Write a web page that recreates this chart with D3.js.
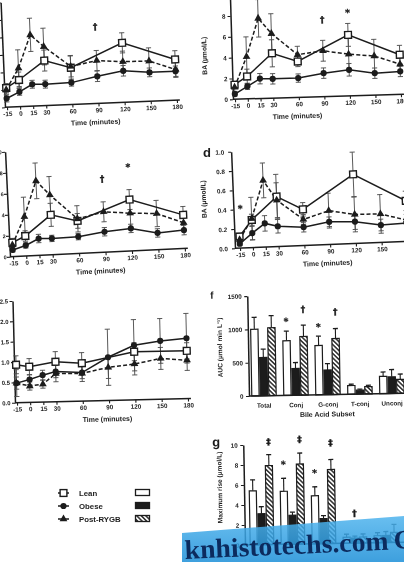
<!DOCTYPE html>
<html><head><meta charset="utf-8">
<script src="https://cdn.jsdelivr.net/npm/d3@7"></script>
<style>
body{margin:0;background:#fff}
svg{display:block;will-change:transform}
text{font-family:"Liberation Sans",Arial,sans-serif;font-weight:bold;fill:#1c1c1c}
text.mk{font-family:"DejaVu Sans",sans-serif;stroke:#1c1c1c;stroke-width:0.35}
</style>
</head><body><svg id="c" width="404" height="562"></svg>
<script>
// ---------- DATA ----------
const allTimes = [-15, 0, 15, 30, 60, 90, 120, 150, 180];
const leanTimes = [-15, 0, 30, 60, 120, 180];
const timeTicks = [-15, 0, 15, 30, 60, 90, 120, 150, 180];

// panel a
const aLean = [2.2, 3.05, 5.15, 4.2, 6.8, 4.65];
const aLeanErr = [0.5, 0.9, 1.2, 1.4, 1.15, 1.0];
const aObese = [1.0, 1.7, 2.5, 2.45, 2.5, 3.1, 3.6, 3.3, 3.3];
const aObeseErr = [0.4, 0.4, 0.45, 0.45, 0.4, 0.6, 0.6, 0.5, 0.6];
const aPost = [2.0, 4.4, 8.15, 6.75, 4.35, 4.9, 4.65, 4.6, 3.5];
const aPostErr = [0.5, 2.1, 1.9, 2.1, 1.2, 1.15, 1.2, 1.5, 0.9];
// panel b
const bLean = [1.4, 2.15, 4.3, 3.45, 5.85, 3.8];
const bLeanErr = [0.3, 0.7, 1.3, 0.5, 1.1, 0.9];
const bObese = [0.5, 1.2, 1.9, 1.85, 1.85, 2.25, 2.5, 2.1, 2.2];
const bObeseErr = [0.2, 0.3, 0.5, 0.5, 0.4, 0.5, 0.6, 0.5, 0.5];
const bPost = [1.15, 4.05, 7.7, 6.2, 4.1, 4.4, 4.0, 3.75, 2.9];
const bPostErr = [0.4, 1.9, 1.8, 1.9, 0.8, 1.0, 1.5, 1.6, 0.8];
// panel c
const cLean = [1.33, 1.9, 3.8, 3.1, 4.9, 3.2];
const cLeanErr = [0.4, 0.5, 1.1, 0.7, 0.95, 0.8];
const cObese = [0.63, 1.0, 1.6, 1.55, 1.6, 1.95, 2.15, 1.6, 1.75];
const cObeseErr = [0.2, 0.25, 0.4, 0.3, 0.3, 0.4, 0.4, 0.4, 0.45];
const cPost = [1.1, 3.75, 7.1, 5.7, 3.3, 3.85, 3.6, 3.45, 2.45];
const cPostErr = [0.4, 1.85, 1.7, 1.75, 1.25, 0.95, 1.4, 1.25, 0.7];
// panel d
const dLean = [0.12, 0.286, 0.517, 0.374, 0.715, 0.42];
const dLeanErr = [0.03, 0.06, 0.23, 0.07, 0.23, 0.1];
const dObese = [0.045, 0.15, 0.245, 0.21, 0.19, 0.235, 0.225, 0.18, 0.19];
const dObeseErr = [0.02, 0.07, 0.08, 0.07, 0.05, 0.05, 0.08, 0.06, 0.05];
const dPost = [0.086, 0.3, 0.69, 0.48, 0.27, 0.35, 0.3, 0.295, 0.22];
const dPostErr = [0.03, 0.22, 0.18, 0.18, 0.05, 0.18, 0.18, 0.2, 0.06];
// panel e
const eLean = [0.93, 0.875, 0.98, 0.93, 1.18, 1.17];
const eLeanErr = [0.22, 0.2, 0.25, 0.26, 0.22, 0.2];
const eObese = [0.48, 0.56, 0.66, 0.74, 0.7, 1.06, 1.34, 1.43, 1.48];
const eObeseErr = [0.33, 0.12, 0.12, 0.15, 0.15, 0.69, 0.63, 0.55, 0.61];
const ePost = [0.48, 0.4, 0.44, 0.69, 0.68, 0.81, 0.88, 1.0, 0.94];
const ePostErr = [0.15, 0.1, 0.1, 0.2, 0.2, 0.27, 0.27, 0.27, 0.25];
// panels f & g
const subsets = ["Total", "Conj", "G-conj", "T-conj", "Unconj"];
const groups = ["Lean", "Obese", "Post-RYGB"];
const fLean = [1000, 820, 740, 130, 260];
const fLeanErr = [180, 145, 140, 20, 65];
const fObese = [575, 400, 370, 60, 250];
const fObeseErr = [125, 90, 95, 15, 110];
const fPost = [1020, 880, 840, 110, 210];
const fPostErr = [180, 170, 150, 20, 80];
const gLean = [5.4, 5.3, 4.8, 0.6, 0.7];
const gLeanErr = [1.1, 1.3, 0.9, 0.3, 0.3];
const gObese = [3.1, 2.9, 2.5, 0.5, 0.7];
const gObeseErr = [0.7, 0.3, 0.3, 0.2, 0.4];
const gPost = [7.9, 8.0, 7.4, 0.6, 1.0];
const gPostErr = [1.1, 1.1, 1.0, 0.3, 0.8];
// significance marks
const aMarks = [{t: 90, v: 8.8, s: "†"}];
const bMarks = [{t: 90, v: 7.4, s: "†"}, {t: 120, v: 8.0, s: "*"}];
const cMarks = [{t: 90, v: 7.0, s: "†"}, {t: 120, v: 8.0, s: "*"}];
const dMarks = [{t: -13, v: 0.41, s: "*"}];
const fMarks = [{c: "Conj", g: "Lean", v: 1110, s: "*"}, {c: "Conj", g: "Post-RYGB", v: 1290, s: "†"},
                {c: "G-conj", g: "Lean", v: 1020, s: "*"}, {c: "G-conj", g: "Post-RYGB", v: 1245, s: "†"}];
const gMarks = [{c: "Total", g: "Post-RYGB", v: 10.3, s: "‡"}, {c: "Conj", g: "Post-RYGB", v: 10.5, s: "‡"},
                {c: "G-conj", g: "Post-RYGB", v: 10.1, s: "‡"}, {c: "Conj", g: "Lean", v: 8.0, s: "*"},
                {c: "G-conj", g: "Lean", v: 7.1, s: "*"}, {c: "T-conj", g: "Obese", v: 3.0, s: "†"}];

// ---------- DRAWING ----------
const ink = "#1c1c1c";
const svg = d3.select("#c");
const defs = svg.append("defs");
const pat = defs.append("pattern").attr("id", "hatch").attr("patternUnits", "userSpaceOnUse")
  .attr("width", 3.2).attr("height", 3.2).attr("patternTransform", "rotate(-45)");
pat.append("rect").attr("width", 3.2).attr("height", 3.2).attr("fill", "#fff");
pat.append("line").attr("x1", 0.8).attr("x2", 0.8).attr("y1", 0).attr("y2", 3.2).attr("stroke", ink).attr("stroke-width", 1.4);

function styleAxis(sel, fs) {
  sel.attr("font-size", fs || 6.3).attr("font-family", null);
  sel.selectAll("line").attr("stroke", ink).attr("stroke-width", 1.1);
  sel.selectAll("path").attr("stroke", ink).attr("stroke-width", 1.5);
  sel.selectAll("text").attr("fill", ink);
}

function marker(g, kind, cx, cy) {
  if (kind === "lean") {
    g.append("rect").attr("x", cx - 3.4).attr("y", cy - 3.4).attr("width", 6.8).attr("height", 6.8)
      .attr("fill", "#fff").attr("stroke", ink).attr("stroke-width", 1.4);
  } else if (kind === "obese") {
    g.append("circle").attr("cx", cx).attr("cy", cy).attr("r", 3.1).attr("fill", ink);
  } else {
    g.append("path").attr("d", d3.symbol(d3.symbolTriangle).size(26)()).attr("transform", `translate(${cx},${cy})`).attr("fill", ink);
  }
}

function linePanel(p) {
  const g = svg.append("g").attr("transform", `rotate(${p.angle},${p.ox},${p.oy})`);
  const x = d3.scaleLinear().domain([-15, 180]).range([p.xa, p.xb]);
  const y = d3.scaleLinear().domain([0, p.yMax]).range([p.oy, p.oy - p.yMax * p.ppu]);
  const xa = g.append("g").attr("transform", `translate(0,${p.oy})`)
    .call(d3.axisBottom(x).tickValues(timeTicks).tickSize(3).tickPadding(1.5)
      .tickFormat(d => (p.xLabMax !== undefined && d > p.xLabMax) ? "" : String(d)));
  xa.select(".domain").remove();
  styleAxis(xa);
  g.append("line").attr("x1", p.ox).attr("x2", p.xb + 3).attr("y1", p.oy).attr("y2", p.oy).attr("stroke", ink).attr("stroke-width", 1.5);
  const ya = g.append("g").attr("transform", `translate(${p.ox},0)`)
    .call(d3.axisLeft(y).tickValues(d3.range(0, p.yMax + p.step / 2, p.step)).tickSize(3).tickPadding(p.pad === undefined ? 2 : p.pad)
      .tickFormat(d => (p.labMax !== undefined && d > p.labMax) ? "" : p.fmt(d)).tickSizeOuter(0));
  styleAxis(ya, p.yfs);
  g.append("text").attr("x", p.tx).attr("y", p.oy + 21).attr("text-anchor", "middle").attr("font-size", 7).text("Time (minutes)");
  if (p.ylab) {
    g.append("text").attr("transform", `translate(${p.ylx},${p.yly}) rotate(-90)`).attr("text-anchor", "middle")
      .attr("font-size", 6.8).text(p.ylab);
  }
  const series = [
    {t: leanTimes, v: p.lean, e: p.leanErr, k: "lean"},
    {t: allTimes, v: p.obese, e: p.obeseErr, k: "obese"},
    {t: allTimes, v: p.post, e: p.postErr, k: "post"}
  ];
  const eb = g.append("g").attr("stroke", "#4a4a4a").attr("stroke-width", 0.9);
  series.forEach(s => s.t.forEach((t, i) => {
    const cx = x(t), y1 = y(s.v[i] + s.e[i]), y2 = y(Math.max(0, s.v[i] - s.e[i]));
    eb.append("line").attr("x1", cx).attr("x2", cx).attr("y1", y1).attr("y2", y2);
    eb.append("line").attr("x1", cx - 2.6).attr("x2", cx + 2.6).attr("y1", y1).attr("y2", y1);
    eb.append("line").attr("x1", cx - 2.6).attr("x2", cx + 2.6).attr("y1", y2).attr("y2", y2);
  }));
  const line = d3.line().x(d => x(d[0])).y(d => y(d[1]));
  series.forEach(s => {
    g.append("path").attr("d", line(s.t.map((t, i) => [t, s.v[i]]))).attr("fill", "none").attr("stroke", ink)
      .attr("stroke-width", 1.5).attr("stroke-dasharray", s.k === "post" ? "4,2.2" : null);
  });
  series.forEach(s => s.t.forEach((t, i) => marker(g, s.k, x(t), y(s.v[i]))));
  (p.marks || []).forEach(m => g.append("text").attr("class", "mk").attr("x", x(m.t)).attr("y", y(m.v)).attr("dy", "0.35em")
    .attr("text-anchor", "middle").attr("font-size", 9).text(m.s));
}

linePanel({ox: 5, oy: 107.3, xa: 7, xb: 177, yMax: 12, ppu: 8.75, step: 2, fmt: () => "", angle: -2.4, tx: 95,
  lean: aLean, leanErr: aLeanErr, obese: aObese, obeseErr: aObeseErr, post: aPost, postErr: aPostErr, marks: aMarks});
linePanel({ox: 233, oy: 99.3, xa: 235, xb: 401, yMax: 10, ppu: 10.42, step: 2, fmt: d3.format("d"), labMax: 8, angle: -1.7, tx: 297,
  ylab: "BA (µmol/L)", ylx: 208, yly: 55,
  lean: bLean, leanErr: bLeanErr, obese: bObese, obeseErr: bObeseErr, post: bPost, postErr: bPostErr, marks: bMarks});
linePanel({ox: 10, oy: 256.7, xa: 13, xb: 185, yMax: 10, ppu: 10.5, step: 2, fmt: d3.format("d"), angle: -2.7, tx: 100, pad: 0.3, yfs: 5.4,
  lean: cLean, leanErr: cLeanErr, obese: cObese, obeseErr: cObeseErr, post: cPost, postErr: cPostErr, marks: cMarks});
linePanel({ox: 235, oy: 248.3, xa: 240, xb: 407.5, yMax: 1.0, ppu: 96.7, step: 0.2, fmt: d3.format(".1f"), angle: -2.3, tx: 327, pad: 4, xLabMax: 150,
  ylab: "BA (µmol/L)", ylx: 208, yly: 198,
  lean: dLean, leanErr: dLeanErr, obese: dObese, obeseErr: dObeseErr, post: dPost, postErr: dPostErr, marks: dMarks});
linePanel({ox: 15, oy: 402.7, xa: 17, xb: 188, yMax: 2.5, ppu: 40.7, step: 0.5, fmt: d3.format(".1f"), angle: -1.4, tx: 107, pad: 1.5, yfs: 6,
  lean: eLean, leanErr: eLeanErr, obese: eObese, obeseErr: eObeseErr, post: ePost, postErr: ePostErr});

svg.append("text").attr("x", 203).attr("y", 157).attr("font-size", 13).text("d");

function barPanel(p) {
  const g = svg.append("g").attr("transform", `rotate(${p.angle},${p.ox},${p.oy})`);
  const x0 = d3.scaleBand().domain(subsets).range(p.xr).paddingInner(0.2).paddingOuter(0.1);
  const x1 = d3.scaleBand().domain(groups).range([0, x0.bandwidth()]);
  const y = d3.scaleLinear().domain([0, p.yMax]).range([p.oy, p.oy - p.yMax * p.ppu]);
  const vals = [p.lean, p.obese, p.post], errs = [p.leanErr, p.obeseErr, p.postErr];
  const fills = ["#fff", ink, "url(#hatch)"];
  subsets.forEach((c, ci) => groups.forEach((gr, gi) => {
    const bx = x0(c) + x1(gr), bw = x1.bandwidth(), v = vals[gi][ci], e = errs[gi][ci];
    const cx = bx + bw / 2;
    g.append("line").attr("x1", cx).attr("x2", cx).attr("y1", y(v)).attr("y2", y(v + e)).attr("stroke", ink).attr("stroke-width", 1.1);
    g.append("line").attr("x1", cx - 2.5).attr("x2", cx + 2.5).attr("y1", y(v + e)).attr("y2", y(v + e)).attr("stroke", ink).attr("stroke-width", 1.3);
    g.append("rect").attr("x", bx + 0.6).attr("y", y(v)).attr("width", bw - 1.2).attr("height", p.oy - y(v))
      .attr("fill", fills[gi]).attr("stroke", ink).attr("stroke-width", 1.2);
  }));
  g.append("line").attr("x1", p.ox).attr("x2", p.xr[1] + 4).attr("y1", p.oy).attr("y2", p.oy).attr("stroke", ink).attr("stroke-width", 1.5);
  const ya = g.append("g").attr("transform", `translate(${p.ox},0)`)
    .call(d3.axisLeft(y).tickValues(d3.range(0, p.yMax + p.step / 2, p.step)).tickSize(3).tickPadding(2.5).tickFormat(d3.format("d")).tickSizeOuter(0));
  styleAxis(ya);
  if (p.showX) {
    subsets.forEach(c => g.append("text").attr("x", x0(c) + x0.bandwidth() / 2).attr("y", p.oy + 12)
      .attr("text-anchor", "middle").attr("font-size", 6.3).text(c));
    g.append("text").attr("x", p.tx).attr("y", p.oy + 22).attr("text-anchor", "middle").attr("font-size", 7).text("Bile Acid Subset");
  }
  g.append("text").attr("transform", `translate(${p.ylx},${p.yly}) rotate(-90)`).attr("text-anchor", "middle")
    .attr("font-size", 6.6).text(p.ylab);
  p.marks.forEach(m => g.append("text").attr("class", "mk").attr("x", x0(m.c) + x1(m.g) + x1.bandwidth() / 2).attr("y", y(m.v)).attr("dy", "0.35em")
    .attr("text-anchor", "middle").attr("font-size", 9).text(m.s));
  g.append("text").attr("x", p.lx).attr("y", p.ly).attr("font-size", p.lfs).text(p.label);
}

barPanel({ox: 249, oy: 396, xr: [248, 408], yMax: 1500, ppu: 33.3 / 500, step: 500, angle: -1, showX: true, tx: 327,
  lean: fLean, leanErr: fLeanErr, obese: fObese, obeseErr: fObeseErr, post: fPost, postErr: fPostErr,
  ylab: "AUC (µmol min L⁻¹)", ylx: 223, yly: 347, marks: fMarks, label: "f", lx: 212, ly: 298, lfs: 10});
barPanel({ox: 245, oy: 545, xr: [246.5, 401.5], yMax: 10, ppu: 10, step: 2, angle: -1, showX: false,
  lean: gLean, leanErr: gLeanErr, obese: gObese, obeseErr: gObeseErr, post: gPost, postErr: gPostErr,
  ylab: "Maximum rise (µmol/L)", ylx: 223, yly: 487, marks: gMarks, label: "g", lx: 214, ly: 446, lfs: 13});

// legend
const leg = svg.append("g");
const legKinds = ["lean", "obese", "post"];
const legFills = ["#fff", ink, "url(#hatch)"];
groups.forEach((gr, i) => {
  const ly = 493 + i * 13;
  leg.append("line").attr("x1", 58).attr("x2", 69).attr("y1", ly).attr("y2", ly).attr("stroke", ink).attr("stroke-width", 1.5);
  marker(leg, legKinds[i], 63.5, ly);
  leg.append("text").attr("x", 79).attr("y", ly).attr("dy", "0.35em").attr("font-size", 7.8).attr("font-weight", "normal").text(gr);
  leg.append("rect").attr("x", 135.5).attr("y", ly - 3.5).attr("width", 14).attr("height", 6)
    .attr("fill", legFills[i]).attr("stroke", ink).attr("stroke-width", 1.3);
});

// watermark band
const grad = defs.append("linearGradient").attr("id", "wm").attr("x1", 0).attr("y1", 0).attr("x2", 0).attr("y2", 1);
grad.append("stop").attr("offset", "0%").attr("stop-color", "#4fb4ee");
grad.append("stop").attr("offset", "100%").attr("stop-color", "#1c8fd8");
svg.append("path").attr("d", "M182,533 L404,516 L404,562 L182,562 Z").attr("fill", "url(#wm)").attr("opacity", 0.85);
svg.append("text").attr("transform", "translate(185,559) rotate(-2.6)")
  .style("font-family", "'Liberation Serif',serif")
  .attr("font-size", 27).attr("textLength", 204).attr("lengthAdjust", "spacingAndGlyphs")
  .style("fill", "#0c2b5e").text("knhistotechs.com");
svg.append("text").attr("transform", "translate(394,549) rotate(-2.6)").style("font-family", "'Liberation Serif',serif")
  .attr("font-size", 27).style("fill", "#0c2b5e").text("C");
</script></body></html>
